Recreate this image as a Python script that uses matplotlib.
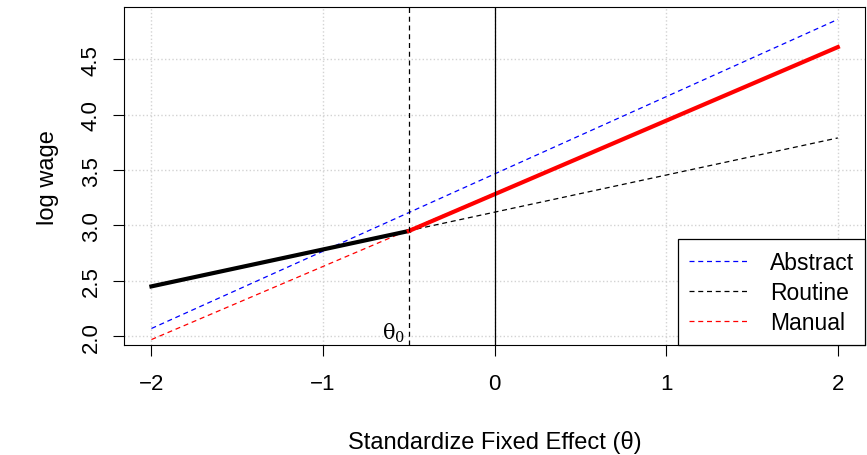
import matplotlib
matplotlib.use("Agg")
import matplotlib.pyplot as plt
import numpy as np

plt.rcParams['font.family'] = ['Liberation Sans', 'DejaVu Sans']
plt.rcParams['mathtext.fontset'] = 'dejavuserif'

xs = [-2, 2]
abstract = [2.07, 4.86]
routine = [2.45, 3.79]
manual = [1.97, 4.61]
theta0 = -0.5
y_theta0 = 2.95
xticks = [-2, -1, 0, 1, 2]
yticks = [2.0, 2.5, 3.0, 3.5, 4.0, 4.5]

fig = plt.figure(figsize=(8.67, 4.56), dpi=100)
ax = fig.add_axes([0.143, 0.241, 0.855, 0.741])
ax.set_xlim(-2.16, 2.16)
ax.set_ylim(1.92, 4.97)
for t in xticks:
    ax.axvline(t, color='lightgray', ls=':', lw=1, zorder=0)
for t in yticks:
    ax.axhline(t, color='lightgray', ls=':', lw=1, zorder=0)
ax.plot(xs, abstract, color='blue', ls='--', lw=0.9, dashes=(4, 3), label='Abstract')
ax.plot(xs, routine, color='black', ls='--', lw=0.9, dashes=(4, 3), label='Routine')
ax.plot(xs, manual, color='red', ls='--', lw=0.9, dashes=(4, 3), label='Manual')
ax.plot([xs[0], theta0], [routine[0], y_theta0], color='black', lw=3)
ax.plot([theta0, xs[1]], [y_theta0, manual[1]], color='red', lw=3)
ax.axvline(theta0, color='black', ls='--', lw=0.9, dashes=(4, 3))
ax.axvline(0, color='black', lw=0.9)
ax.text(theta0 - 0.02, 1.93, r'$\mathrm{\theta}_0$', ha='right', va='bottom', fontsize=15)
ax.set_xticks(xticks)
ax.set_xticklabels(['\u22122', '\u22121', '0', '1', '2'])
ax.set_yticks(yticks)
ax.set_yticklabels([f'{t:.1f}' for t in yticks], rotation=90, va='center')
ax.tick_params(labelsize=16, length=8)
ax.tick_params(axis='x', pad=12)
ax.tick_params(axis='y', pad=8)
ax.set_xlabel('Standardize Fixed Effect (\u03b8)', fontsize=17, labelpad=26)
ax.set_ylabel('log wage', fontsize=17, labelpad=16)
leg = ax.legend(loc='lower right', fontsize=16.5, fancybox=False, framealpha=1,
                edgecolor='black', borderaxespad=0, handlelength=2.6,
                borderpad=0.5, labelspacing=0.3, handletextpad=0.9)
leg.get_frame().set_linewidth(0.9)
fig.savefig('out.png', dpi=100)
